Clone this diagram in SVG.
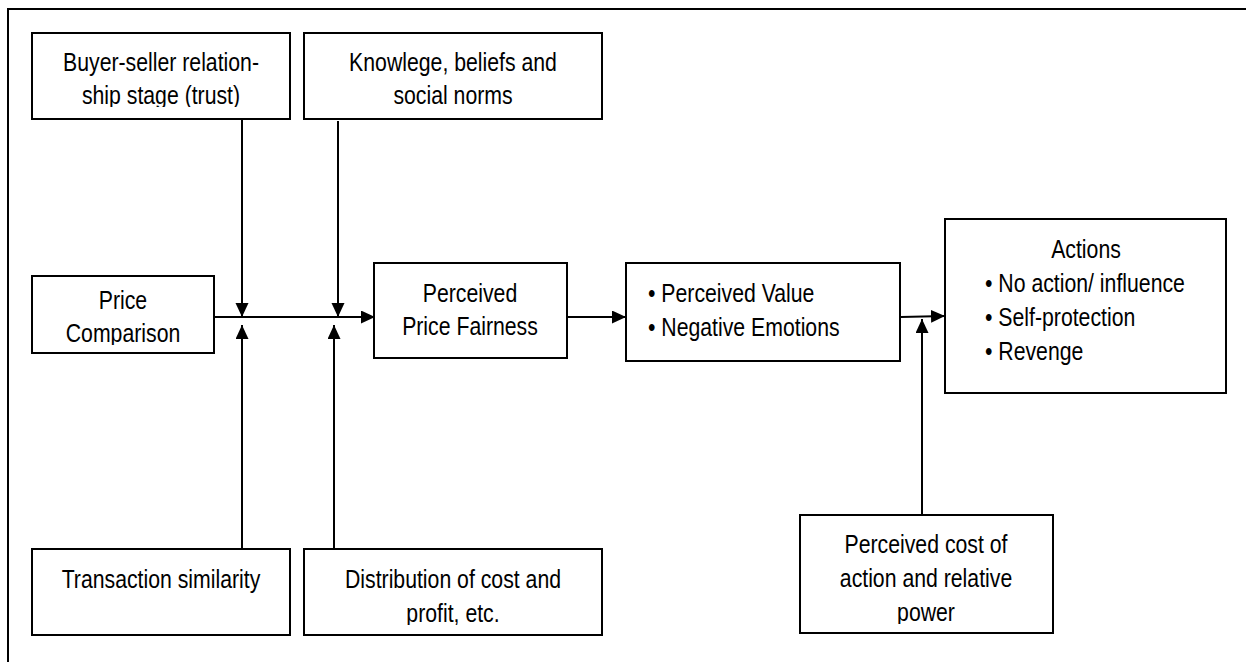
<svg xmlns="http://www.w3.org/2000/svg" width="1246" height="662" viewBox="0 0 1246 662">
<style>
.box{fill:#fff;stroke:#000;stroke-width:2}
.t{font-family:"Liberation Sans",Arial,sans-serif;font-size:25px;fill:#000}
.c{text-anchor:middle}
.ln{fill:none;stroke:#000;stroke-width:2}
</style>
<defs>
<marker id="ah" markerUnits="userSpaceOnUse" markerWidth="15" markerHeight="14" refX="14" refY="6.5" orient="auto">
<path d="M0,0 L14,6.5 L0,13 z" fill="#000"/>
</marker>
<clipPath id="cpB"><rect x="32" y="33" width="258" height="74"/></clipPath>
<clipPath id="cpP"><rect x="32" y="276" width="182" height="69"/></clipPath>
<clipPath id="cpD"><rect x="304" y="549" width="298" height="76"/></clipPath>
<clipPath id="cpC"><rect x="800" y="515" width="253" height="109"/></clipPath>
</defs>
<rect width="1246" height="662" fill="#fff"/>
<path class="ln" d="M8,662 V9 H1246"/>

<g id="buyer-seller">
<rect class="box" x="32" y="33" width="258" height="86"/>
<g clip-path="url(#cpB)">
<text class="t c" transform="translate(161,71) scale(0.85,1)">Buyer-seller relation-</text>
<text class="t c" transform="translate(161,104) scale(0.85,1)">ship stage (trust)</text>
</g>
</g>
<g id="knowledge">
<rect class="box" x="304" y="33" width="298" height="86"/>
<text class="t c" transform="translate(453,71) scale(0.85,1)">Knowlege, beliefs and</text>
<text class="t c" transform="translate(453,104) scale(0.85,1)">social norms</text>
</g>
<g id="price-comparison">
<rect class="box" x="32" y="276" width="182" height="77"/>
<g clip-path="url(#cpP)">
<text class="t c" transform="translate(123,309) scale(0.85,1)">Price</text>
<text class="t c" transform="translate(123,342) scale(0.85,1)">Comparison</text>
</g>
</g>
<g id="price-fairness">
<rect class="box" x="374" y="263" width="193" height="95"/>
<text class="t c" transform="translate(470,302) scale(0.85,1)">Perceived</text>
<text class="t c" transform="translate(470,335) scale(0.85,1)">Price Fairness</text>
</g>
<g id="value-emotions">
<rect class="box" x="626" y="263" width="274" height="98"/>
<text class="t" transform="translate(648,302) scale(0.85,1)">• Perceived Value</text>
<text class="t" transform="translate(648,336) scale(0.85,1)">• Negative Emotions</text>
</g>
<g id="actions">
<rect class="box" x="945" y="219" width="281" height="174"/>
<text class="t c" transform="translate(1086,258) scale(0.85,1)">Actions</text>
<text class="t" transform="translate(985,292) scale(0.85,1)">• No action/ influence</text>
<text class="t" transform="translate(985,326) scale(0.85,1)">• Self-protection</text>
<text class="t" transform="translate(985,360) scale(0.85,1)">• Revenge</text>
</g>
<g id="transaction-similarity">
<rect class="box" x="32" y="549" width="258" height="86"/>
<text class="t c" transform="translate(161,588) scale(0.85,1)">Transaction similarity</text>
</g>
<g id="distribution">
<rect class="box" x="304" y="549" width="298" height="86"/>
<g clip-path="url(#cpD)">
<text class="t c" transform="translate(453,588) scale(0.85,1)">Distribution of cost and</text>
<text class="t c" transform="translate(453,622) scale(0.85,1)">profit, etc.</text>
</g>
</g>
<g id="perceived-cost">
<rect class="box" x="800" y="515" width="253" height="118"/>
<g clip-path="url(#cpC)">
<text class="t c" transform="translate(926,553) scale(0.85,1)">Perceived cost of</text>
<text class="t c" transform="translate(926,587) scale(0.85,1)">action and relative</text>
<text class="t c" transform="translate(926,621) scale(0.85,1)">power</text>
</g>
</g>

<g id="connectors">
<path class="ln" d="M215,317 H375" marker-end="url(#ah)"/>
<path class="ln" d="M242,119 V317" marker-end="url(#ah)"/>
<path class="ln" d="M338,121 V317" marker-end="url(#ah)"/>
<path class="ln" d="M242,548 V325" marker-end="url(#ah)"/>
<path class="ln" d="M334,548 V325" marker-end="url(#ah)"/>
<path class="ln" d="M568,317 H626" marker-end="url(#ah)"/>
<path class="ln" d="M901,317 L945,316" marker-end="url(#ah)"/>
<path class="ln" d="M922,514 V319" marker-end="url(#ah)"/>
</g>
</svg>
